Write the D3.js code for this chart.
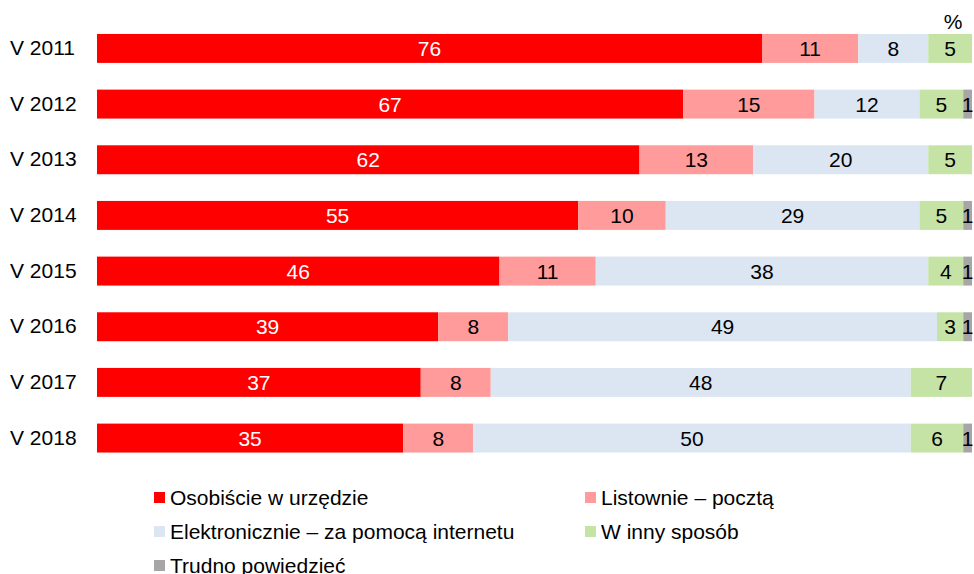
<!DOCTYPE html>
<html lang="pl">
<head>
    <meta charset="UTF-8">
    <title>Sposób załatwiania spraw w urzędzie</title>
    <script src="https://d3js.org/d3.v7.min.js"></script>
    <style>
        body { margin: 0; background: #fff; }
        svg text { font-family: "Liberation Sans", Arial, sans-serif; }
    </style>
</head>
<body>
    <svg class="chart"></svg>

    <script>
        // Data (percent)
        var years = ['V 2011', 'V 2012', 'V 2013', 'V 2014', 'V 2015', 'V 2016', 'V 2017', 'V 2018'];
        var seriesNames = ['Osobiście w urzędzie', 'Listownie – pocztą', 'Elektronicznie – za pomocą internetu', 'W inny sposób', 'Trudno powiedzieć'];
        var osobiscie = [76, 67, 62, 55, 46, 39, 37, 35];
        var listownie = [11, 15, 13, 10, 11, 8, 8, 8];
        var elektronicznie = [8, 12, 20, 29, 38, 49, 48, 50];
        var innySposob = [5, 5, 5, 5, 4, 3, 7, 6];
        var trudno = [0, 1, 0, 1, 1, 1, 0, 1];
        var colors = ['#ff0000', '#ff9b9b', '#dce6f2', '#c6e3a6', '#a6a6a6'];

        var width = 974, height = 574;
        var fontSize = 21;
        var svg = d3.select('.chart').attr('width', width).attr('height', height);

        // build rows for stacking
        var allSeries = [osobiscie, listownie, elektronicznie, innySposob, trudno];
        var rows = years.map(function (y, i) {
            var r = { year: y };
            seriesNames.forEach(function (s, j) { r[s] = allSeries[j][i]; });
            return r;
        });

        var stack = d3.stack().keys(seriesNames).offset(d3.stackOffsetExpand);
        var stacked = stack(rows);

        var x = d3.scaleLinear().domain([0, 1]).range([97, 972]);
        var y = d3.scaleBand().domain(years).range([20.6, 465.9])
                  .paddingInner(0.48).paddingOuter(0.24);

        var layers = svg.selectAll('.layer')
            .data(stacked)
            .enter().append('g')
            .attr('class', 'layer')
            .attr('fill', function (d, i) { return colors[i]; });

        layers.selectAll('rect')
            .data(function (d) { return d; })
            .enter().append('rect')
            .attr('x', function (d) { return x(d[0]); })
            .attr('y', function (d) { return y(d.data.year); })
            .attr('width', function (d) { return x(d[1]) - x(d[0]); })
            .attr('height', y.bandwidth());

        // value labels
        stacked.forEach(function (layer, i) {
            svg.append('g').selectAll('text')
                .data(layer.filter(function (d) { return d.data[layer.key] > 0; }))
                .enter().append('text')
                .attr('x', function (d) { return (x(d[0]) + x(d[1])) / 2; })
                .attr('y', function (d) { return y(d.data.year) + y.bandwidth() / 2; })
                .attr('dy', '0.36em')
                .attr('text-anchor', 'middle')
                .attr('font-size', fontSize)
                .attr('fill', i === 0 ? '#fff' : '#000')
                .text(function (d) { return d.data[layer.key]; });
        });

        // category labels
        var yAxis = d3.axisLeft(y).tickSize(0).tickPadding(0);
        var yg = svg.append('g').attr('transform', 'translate(10,0)').call(yAxis);
        yg.select('.domain').remove();
        yg.selectAll('text')
            .attr('text-anchor', 'start')
            .attr('font-size', fontSize)
            .attr('fill', '#000');

        svg.append('text')
            .attr('x', 953).attr('y', 29)
            .attr('text-anchor', 'middle')
            .attr('font-size', fontSize)
            .text('%');

        // legend
        var legendPos = [[154, 497], [585, 497], [154, 531], [585, 531], [154, 565]];
        var legend = svg.selectAll('.legend')
            .data(seriesNames)
            .enter().append('g')
            .attr('class', 'legend')
            .attr('transform', function (d, i) { return 'translate(' + legendPos[i][0] + ',' + legendPos[i][1] + ')'; });
        legend.append('rect')
            .attr('x', 0).attr('y', -5)
            .attr('width', 11).attr('height', 11)
            .attr('fill', function (d, i) { return colors[i]; });
        legend.append('text')
            .attr('x', 16).attr('dy', '0.36em')
            .attr('font-size', fontSize)
            .text(function (d) { return d; });
    </script>
</body>
</html>
